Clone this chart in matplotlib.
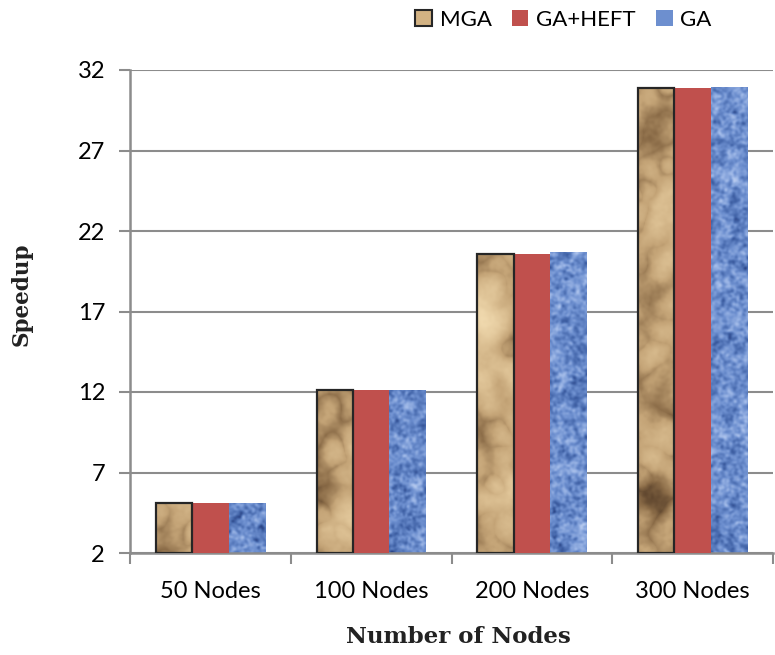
import numpy as np
import matplotlib
matplotlib.use("Agg")
import matplotlib.pyplot as plt
from matplotlib.patches import Patch
from matplotlib.colors import LinearSegmentedColormap

# ---- data ----
categories = ["50 Nodes", "100 Nodes", "200 Nodes", "300 Nodes"]
series_names = ["MGA", "GA+HEFT", "GA"]
mga = [5.1, 12.1, 20.6, 30.9]
ga_heft = [5.1, 12.1, 20.6, 30.9]
ga = [5.1, 12.1, 20.7, 30.95]
y_ticks = [2, 7, 12, 17, 22, 27, 32]

plt.rcParams["font.family"] = ["Lato", "DejaVu Sans"]

W, H, DPI = 7.75, 6.55, 100
fig = plt.figure(figsize=(W, H), dpi=DPI)
ax = fig.add_axes([130 / 775, 1 - 553 / 655, 643 / 775, 483 / 655])

rng = np.random.default_rng(7)


def smooth_noise(shape, scale):
    """Gaussian-filtered white noise via FFT, normalised to 0..1."""
    n = rng.standard_normal(shape)
    fy = np.fft.fftfreq(shape[0])[:, None]
    fx = np.fft.fftfreq(shape[1])[None, :]
    g = np.exp(-(fx ** 2 + fy ** 2) * (2 * np.pi * scale) ** 2 / 2)
    out = np.real(np.fft.ifft2(np.fft.fft2(n) * g))
    out -= out.min()
    return out / out.max()


tex_shape = (483, 643)
# crumpled paper: soft shading plus faint folds
base = smooth_noise(tex_shape, 14)
ridge = 1 - np.abs(2 * smooth_noise(tex_shape, 8) - 1)
fine = smooth_noise(tex_shape, 1.5)
paper = 0.65 * base + 0.25 * (1 - ridge ** 2) + 0.10 * fine
paper = (paper - paper.min()) / (paper.max() - paper.min())
paper_cmap = LinearSegmentedColormap.from_list(
    "paper", ["#4a3422", "#8a6b47", "#c4a477", "#dcc093", "#f0d9ae"])

# woven blue fabric
weave = 0.6 * smooth_noise(tex_shape, 1.3) + 0.4 * smooth_noise(tex_shape, 4)
weave = (weave - weave.min()) / (weave.max() - weave.min())
cloth_cmap = LinearSegmentedColormap.from_list(
    "cloth", ["#23397a", "#4466aa", "#6d8fcf", "#9cb6e6", "#c9d8f4"])

x = np.arange(len(categories))
bw = 0.226
offsets = [-bw, 0.0, bw]
x0, x1 = -0.5, len(categories) - 0.5
y0, y1 = 2, 32

bars_mga = ax.bar(x + offsets[0], np.array(mga) - y0, bw, bottom=y0,
                  facecolor="none", edgecolor="#262626", linewidth=1.6, zorder=4)
bars_heft = ax.bar(x + offsets[1], np.array(ga_heft) - y0, bw, bottom=y0,
                   color="#c0504d", linewidth=0, zorder=3)
bars_ga = ax.bar(x + offsets[2], np.array(ga) - y0, bw, bottom=y0,
                 facecolor="none", linewidth=0, zorder=3)

for bars, tex, cmap in [(bars_mga, paper, paper_cmap), (bars_ga, weave, cloth_cmap)]:
    for b in bars:
        im = ax.imshow(tex, cmap=cmap, extent=(x0, x1, y0, y1), origin="lower",
                       aspect="auto", interpolation="bilinear", zorder=2)
        im.set_clip_path(b)

ax.set_xlim(x0, x1)
ax.set_ylim(y0, y1)
ax.set_yticks(y_ticks)
ax.set_yticklabels([str(t) for t in y_ticks], fontsize=17)
ax.yaxis.grid(True, color="#8c8c8c", linewidth=1.5, zorder=0)
ax.set_axisbelow(True)

ax.set_xticks(np.arange(-0.5, len(categories), 1.0))
ax.set_xticklabels([])
ax.set_xticks(x, minor=True)
ax.set_xticklabels(categories, minor=True, fontsize=17)
ax.tick_params(axis="x", which="major", length=8, width=1.5, color="#8c8c8c", direction="out")
ax.tick_params(axis="x", which="minor", length=0, pad=20)
ax.tick_params(axis="y", length=8, width=1.5, color="#8c8c8c", pad=10)

for side in ["top", "right"]:
    ax.spines[side].set_visible(False)
for side in ["left", "bottom"]:
    ax.spines[side].set_color("#8c8c8c")
    ax.spines[side].set_linewidth(1.8)

fig.text(22 / 775, 1 - 294 / 655, "Speedup", rotation=90, ha="center", va="center",
         fontsize=15.5, fontweight="bold", family="DejaVu Serif", color="#222222")
fig.text(458 / 775, 1 - 637 / 655, "Number of Nodes", ha="center", va="center",
         fontsize=16.5, fontweight="bold", family="DejaVu Serif", color="#222222")

handles = [
    Patch(facecolor="#d2b283", edgecolor="#262626", linewidth=1.5),
    Patch(facecolor="#c0504d", edgecolor="none"),
    Patch(facecolor="#6d8fcf", edgecolor="none"),
]
fig.legend(handles, series_names, loc="upper left", bbox_to_anchor=(402 / 775, 1.005),
           ncol=3, frameon=False, fontsize=16, handlelength=0.75, handleheight=0.75,
           handletextpad=0.35, columnspacing=0.9, borderaxespad=0.2)

fig.savefig("out.png", dpi=DPI)
